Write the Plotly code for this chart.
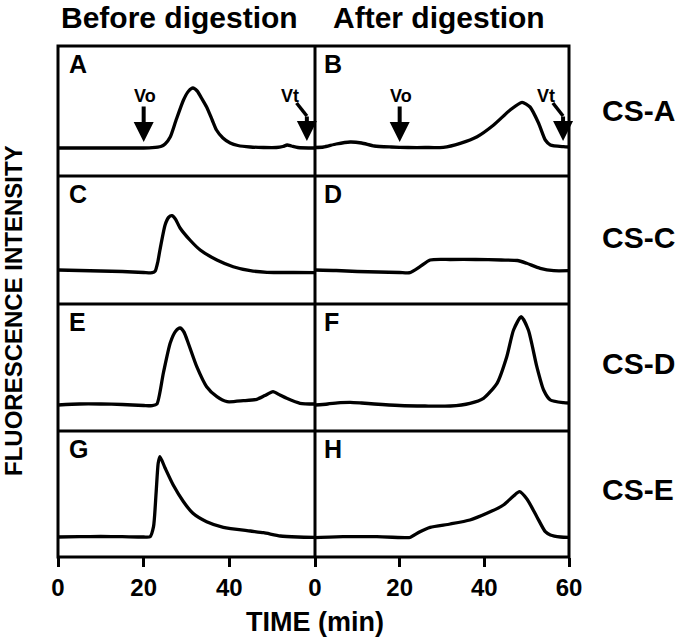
import plotly.graph_objects as go

# ---------------- data ----------------
# intensity in arbitrary units (height above the panel floor)
time_A = [0, 5, 10, 15, 20, 22, 24, 25, 26.2, 27.5, 29.3, 30.5, 31.5, 32.5, 33.5, 34.7, 36, 37, 38.5, 40.2, 42, 44.9, 48, 51, 52.5, 53.5, 54.5, 56, 60]
int_A = [28, 28, 28, 28, 28, 28.3, 29.5, 32, 39, 55, 76, 85, 88, 85, 78, 69, 56, 46, 38, 33, 30.5, 29, 28.5, 28.5, 29.5, 31, 30, 28.5, 28]

time_B = [0, 2, 5, 8.3, 11, 14, 18, 22, 26, 30.3, 34.3, 38.3, 42.2, 46.1, 48.9, 50.8, 52.8, 54.4, 55.6, 58.7, 60]
int_B = [28.5, 29, 32, 34, 33, 30, 29, 28.5, 28.5, 28.7, 32.7, 39.3, 51, 66, 73.7, 69, 53, 36, 31, 29.3, 29]

time_C = [0, 5, 10, 15, 20, 22, 22.7, 23.3, 23.8, 25, 25.8, 26.6, 27.4, 28.5, 30.8, 33.2, 37.1, 40.9, 44.9, 48.8, 55, 60]
int_C = [34, 33.5, 33, 32.5, 31.5, 31.3, 33, 42, 54, 79, 86.5, 88.3, 85, 76, 64, 54, 44, 37.3, 33.3, 31.7, 31.5, 31.3]

time_D = [0, 5, 10, 15, 20, 22.4, 24.8, 27.2, 32, 38, 44, 47.8, 50, 53.2, 56.4, 60]
int_D = [34, 33.5, 32.5, 32, 31.5, 31.3, 37.3, 44, 44.5, 44.5, 44, 43.5, 40.7, 35.7, 33.3, 33.3]

time_E = [0, 5, 10, 15, 20, 22, 23.1, 24.6, 26.2, 27.5, 28.5, 29.4, 30.4, 32.4, 34.7, 37.1, 39.5, 43.3, 46.4, 48.3, 50.2, 51.8, 53.4, 56.5, 60]
int_E = [26, 27, 27, 26.5, 25.5, 25.3, 27, 58, 88, 100, 103, 99, 88, 64.3, 44.3, 34.3, 29.3, 30.3, 31.7, 35.5, 39.3, 36, 32.7, 27.7, 27]

time_F = [0, 3, 6, 8.3, 11, 14, 20, 26, 32, 36.6, 39.8, 43, 45.3, 46.9, 48.7, 50.4, 52.4, 54, 55.6, 58.7, 60]
int_F = [26, 27, 28.3, 28.7, 28, 27, 25.5, 25, 25, 27.7, 32.7, 47.7, 74.3, 101, 114.3, 101, 64.3, 41, 31, 28.3, 28]

time_G = [0, 5, 10, 15, 20, 21.5, 22.3, 22.9, 23.4, 23.8, 25, 26.9, 29.3, 31.5, 34.7, 38.6, 44.9, 48, 51.9, 56, 60]
int_G = [20, 20.3, 20.5, 20.3, 20, 20.3, 30.3, 64, 94, 100.3, 89, 72, 55.3, 43.7, 35.3, 29.7, 26, 24.3, 21, 20, 19.7]

time_H = [0, 6.6, 14.6, 21.7, 22.4, 24.8, 27.2, 31.9, 36.6, 40.6, 44.5, 46.9, 48.3, 50.1, 52.4, 54.4, 55.6, 58, 60]
int_H = [19.3, 20.3, 20.3, 19.3, 19.5, 25.3, 29.7, 33, 37, 43.7, 52, 61, 65.3, 57.7, 40.3, 25.3, 22, 20, 19.7]

panel_letters = ["A", "B", "C", "D", "E", "F", "G", "H"]
column_titles = ["Before digestion", "After digestion"]
row_labels = ["CS-A", "CS-C", "CS-D", "CS-E"]
x_ticks_left = [0, 20, 40]
x_ticks_right = [0, 20, 40, 60]
void_time = 20      # Vo
total_time_A = 58.1  # Vt (panel A)
total_time_B = 58.6  # Vt (panel B)

# ---------------- layout geometry ----------------
W, H = 680, 639
FONT = "Liberation Sans, Arial, Helvetica, sans-serif"
col_px = [(58, 315), (315, 569)]
row_px = [(46, 176), (176, 304), (304, 431), (431, 557)]

series = [(time_A, int_A), (time_B, int_B), (time_C, int_C), (time_D, int_D),
          (time_E, int_E), (time_F, int_F), (time_G, int_G), (time_H, int_H)]

fig = go.Figure()
layout = dict(width=W, height=H, margin=dict(l=0, r=0, t=0, b=0, autoexpand=False),
              plot_bgcolor="white", paper_bgcolor="white", showlegend=False)
annotations = []
shapes = []

for k, (tt, ii) in enumerate(series):
    r, c = divmod(k, 2)
    n = k + 1
    xs = "" if n == 1 else str(n)
    x0, x1 = col_px[c]
    y0, y1 = row_px[r]
    fig.add_trace(go.Scatter(x=tt, y=ii, mode="lines",
                             line=dict(color="black", width=3.3, shape="spline", smoothing=0.6),
                             xaxis="x" + xs, yaxis="y" + xs, hoverinfo="skip"))
    bottom_row = (r == 3)
    layout["xaxis" + xs] = dict(
        domain=[x0 / W, x1 / W], range=[0, 60], anchor="y" + xs,
        showline=False, showgrid=False, zeroline=False, automargin=False,
        ticks="outside" if bottom_row else "", ticklen=9, tickwidth=3, tickcolor="black",
        tickvals=(x_ticks_left if c == 0 else x_ticks_right) if bottom_row else [],
        showticklabels=bottom_row,
        tickfont=dict(family=FONT, size=24, color="black", weight="bold"),
    )
    layout["yaxis" + xs] = dict(
        domain=[1 - y1 / H, 1 - y0 / H], range=[0, y1 - y0], anchor="x" + xs,
        showline=False, showgrid=False, zeroline=False, ticks="", showticklabels=False,
        automargin=False,
    )
    annotations.append(dict(
        text=panel_letters[k], xref="x" + xs + " domain", yref="y" + xs + " domain",
        x=(0.035 if c == 0 else 0.028), y=1 - 18 / (y1 - y0), xanchor="left", yanchor="middle",
        showarrow=False, font=dict(family=FONT, size=25, color="black", weight="bold")))

# panel frames (outer box plus the shared dividers)
frame = dict(color="black", width=3)
shapes.append(dict(type="rect", xref="paper", yref="paper",
                   x0=col_px[0][0] / W, x1=col_px[1][1] / W,
                   y0=1 - row_px[3][1] / H, y1=1 - row_px[0][0] / H, line=frame, layer="above"))
shapes.append(dict(type="line", xref="paper", yref="paper",
                   x0=col_px[1][0] / W, x1=col_px[1][0] / W,
                   y0=1 - row_px[3][1] / H, y1=1 - row_px[0][0] / H, line=frame, layer="above"))
for r in range(1, 4):
    yy = 1 - row_px[r][0] / H
    shapes.append(dict(type="line", xref="paper", yref="paper",
                       x0=col_px[0][0] / W, x1=col_px[1][1] / W, y0=yy, y1=yy, line=frame, layer="above"))

# column titles
for c, title in enumerate(column_titles):
    cx = [179, 439][c]
    annotations.append(dict(text=title, xref="paper", yref="paper", x=cx / W, y=1 - 17 / H,
                            xanchor="center", yanchor="middle", showarrow=False,
                            font=dict(family=FONT, size=30, color="black", weight="bold")))

# row labels
for r, lab in enumerate(row_labels):
    cy = [110, 237, 363, 489][r]
    annotations.append(dict(text=lab, xref="paper", yref="paper", x=638 / W, y=1 - cy / H,
                            xanchor="center", yanchor="middle", showarrow=False,
                            font=dict(family=FONT, size=30, color="black", weight="bold")))

# axis titles
annotations.append(dict(text="TIME (min)", xref="paper", yref="paper", x=315 / W, y=1 - 622 / H,
                        xanchor="center", yanchor="middle", showarrow=False,
                        font=dict(family=FONT, size=27, color="black", weight="bold")))
annotations.append(dict(text="FLUORESCENCE INTENSITY", xref="paper", yref="paper", x=14 / W, y=1 - 311 / H,
                        xanchor="center", yanchor="middle", showarrow=False, textangle=-90,
                        font=dict(family=FONT, size=24, color="black", weight="bold")))

# Vo / Vt markers in panels A and B
for xs, vt in (("", total_time_A), ("2", total_time_B)):
    ax_ = "x" + xs
    ay_ = "y" + xs
    annotations.append(dict(text="Vo", xref=ax_, yref=ay_, x=void_time + 0.3, y=80,
                            xanchor="center", yanchor="middle", showarrow=False,
                            font=dict(family=FONT, size=18, color="black", weight="bold")))
    annotations.append(dict(text="", xref=ax_, yref=ay_, x=void_time, y=34, ax=0, ay=-37,
                            showarrow=True, arrowhead=2, arrowwidth=4, arrowsize=1,
                            arrowcolor="black", standoff=0))
    annotations.append(dict(text="Vt", xref=ax_, yref=ay_, x=vt - 4, y=80,
                            xanchor="center", yanchor="middle", showarrow=False,
                            font=dict(family=FONT, size=18, color="black", weight="bold")))
    annotations.append(dict(text="", xref=ax_, yref=ay_, x=vt, y=35, ax=0, ay=-26,
                            showarrow=True, arrowhead=2, arrowwidth=4, arrowsize=1,
                            arrowcolor="black", standoff=0))
    shapes.append(dict(type="line", xref=ax_, yref=ay_, x0=vt - 2.4, y0=73, x1=vt, y1=60,
                       line=dict(color="black", width=3.5)))

layout["annotations"] = annotations
layout["shapes"] = shapes
fig.update_layout(**layout)
fig.write_html("out.html", config={"displayModeBar": False},
               post_script="document.body.style.margin='0';"
                           "document.body.style.overflow='hidden';"
                           "document.documentElement.style.overflow='hidden';")
